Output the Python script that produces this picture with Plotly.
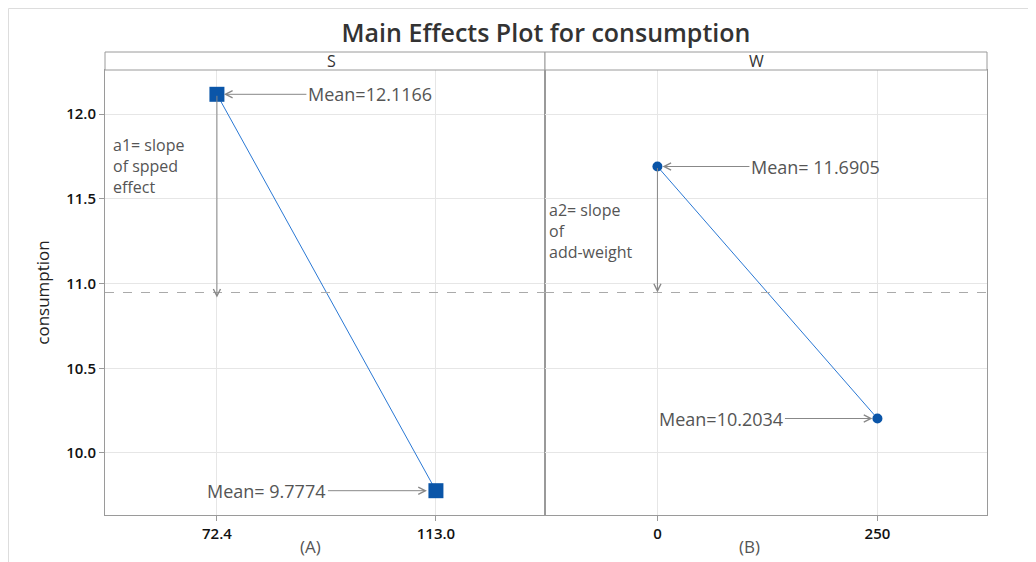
import plotly.graph_objects as go

# ---- data ----
s_levels = ["72.4", "113.0"]
s_means = [12.1166, 9.7774]
w_levels = ["0", "250"]
w_means = [11.6905, 10.2034]
panel_titles = ["S", "W"]
y_ticks = [10.0, 10.5, 11.0, 11.5, 12.0]
s_mean_labels = ["Mean=12.1166", "Mean= 9.7774"]
w_mean_labels = ["Mean= 11.6905", "Mean=10.2034"]
a1_lines = ["a1= slope", "of spped", "effect"]
a2_lines = ["a2= slope", "of", "add-weight"]
grand_mean = (sum(s_means) / len(s_means) + sum(w_means) / len(w_means)) / 2

FONT = "Open Sans"
OFF = 8  # page body margin
W, H = 1036 - OFF, 562 - OFF
L, R, T, B = 105 - OFF, 49, 52 - OFF, 47
plot_w = W - L - R
plot_h = H - T - B
strip_h = 18
ydom_top = 1 - strip_h / plot_h
split = (545 - 105) / plot_w
PLOT_BOTTOM = 515  # reference pixel y of plot bottom


def px_x(px):  # reference pixel x -> paper
    return (px - 105) / plot_w


def px_y(py):  # reference pixel y -> paper
    return (PLOT_BOTTOM - py) / plot_h


BLUE_LINE = "#2a78d4"
BLUE_MK = "#0a55a8"
AXIS = "#9a9a9a"
GRID = "#e6e6e6"
TXT = "#555555"

fig = go.Figure()
fig.add_trace(go.Scatter(x=s_levels, y=s_means, mode="lines+markers",
                         line=dict(color=BLUE_LINE, width=1),
                         marker=dict(symbol="square", size=15, color=BLUE_MK),
                         xaxis="x", yaxis="y", showlegend=False, hoverinfo="x+y"))
fig.add_trace(go.Scatter(x=w_levels, y=w_means, mode="lines+markers",
                         line=dict(color=BLUE_LINE, width=1),
                         marker=dict(symbol="circle", size=10, color=BLUE_MK),
                         xaxis="x2", yaxis="y2", showlegend=False, hoverinfo="x+y"))

xcommon = dict(type="category", range=[-0.511, 1.498], showgrid=True, gridcolor=GRID,
               showline=True, mirror=True, linecolor=AXIS, linewidth=1,
               ticks="outside", ticklen=5, tickcolor=AXIS, zeroline=False,
               tickfont=dict(family=FONT, size=15, color="#111", weight=600))
ycommon = dict(range=[9.634, 12.26], domain=[0, ydom_top], tickvals=y_ticks,
               ticktext=[f"{v:.1f}" for v in y_ticks], showgrid=True, gridcolor=GRID,
               showline=True, mirror=True, linecolor=AXIS, linewidth=1, zeroline=False)

fig.update_layout(
    width=W, height=H, margin=dict(l=L, r=R, t=T, b=B),
    paper_bgcolor="white", plot_bgcolor="white",
    font=dict(family=FONT, color=TXT),
    title=dict(text="Main Effects Plot for consumption", x=0.5, xref="paper",
               y=1 - (33 - OFF) / H, yref="container", xanchor="center", yanchor="middle",
               font=dict(family=FONT, size=25, color="#333", weight=600)),
    xaxis=dict(domain=[0, split], anchor="y", **xcommon),
    xaxis2=dict(domain=[split, 1], anchor="y2", **xcommon),
    yaxis=dict(anchor="x", ticks="outside", ticklen=5, tickcolor=AXIS,
               tickfont=dict(family=FONT, size=15, color="#111", weight=600),
               title=dict(text="consumption", standoff=12,
                          font=dict(family=FONT, size=17, color="#222")),
               **ycommon),
    yaxis2=dict(anchor="x2", matches="y", showticklabels=False, ticks="", **ycommon),
)

shapes = []
# strips
for x0, x1, lbl in [(0, split, panel_titles[0]), (split, 1, panel_titles[1])]:
    shapes.append(dict(type="rect", xref="paper", yref="paper", x0=x0, x1=x1,
                       y0=ydom_top, y1=1, line=dict(color=AXIS, width=1), fillcolor="white"))
    fig.add_annotation(text=lbl, xref="paper", yref="paper", x=(x0 + x1) / 2,
                       y=(ydom_top + 1) / 2, showarrow=False, yanchor="middle",
                       font=dict(family=FONT, size=16, color="#333"))
# grand mean reference lines
for xr in ["x domain", "x2 domain"]:
    shapes.append(dict(type="line", xref=xr, yref="y", x0=0, x1=1, y0=grand_mean, y1=grand_mean,
                       line=dict(color="#aaaaaa", width=1, dash="dash")))
# outer frame (top and left edges visible)
shapes.append(dict(type="line", xref="paper", yref="paper",
                   x0=px_x(OFF + 0.5), x1=px_x(1036), y0=px_y(OFF + 0.5), y1=px_y(OFF + 0.5),
                   line=dict(color="#dddddd", width=1)))
shapes.append(dict(type="line", xref="paper", yref="paper",
                   x0=px_x(OFF + 0.5), x1=px_x(OFF + 0.5), y0=px_y(OFF + 0.5), y1=px_y(562),
                   line=dict(color="#dddddd", width=1)))
fig.update_layout(shapes=shapes)

ARW = dict(showarrow=True, arrowhead=5, arrowsize=1.4, arrowwidth=1, arrowcolor="#888888")
MFONT = dict(family=FONT, size=18, color=TXT)
SFONT = dict(family=FONT, size=16, color=TXT)

# mean labels with arrows
fig.add_annotation(x=0, y=s_means[0], xref="x", yref="y", text=s_mean_labels[0],
                   ax=153, ay=0, standoff=7, font=MFONT, **ARW)
fig.add_annotation(x=1, y=s_means[1], xref="x", yref="y", text=s_mean_labels[1],
                   ax=-169, ay=0, standoff=9, font=MFONT, **ARW)
fig.add_annotation(x=0, y=w_means[0], xref="x2", yref="y2", text=w_mean_labels[0],
                   ax=158, ay=0, standoff=5, font=MFONT, **ARW)
fig.add_annotation(x=1, y=w_means[1], xref="x2", yref="y2", text=w_mean_labels[1],
                   ax=-156, ay=0, standoff=5, font=MFONT, **ARW)

# slope arrows from first mean down to grand mean
fig.add_annotation(x=0, y=grand_mean - 0.03, xref="x", yref="y", text="",
                   axref="x", ayref="y", ax=0, ay=s_means[0], **ARW)
fig.add_annotation(x=0, y=grand_mean, xref="x2", yref="y2", text="",
                   axref="x2", ayref="y2", ax=0, ay=w_means[0], **ARW)

# slope texts
fig.add_annotation(text="<br>".join(a1_lines), xref="paper", yref="paper", x=px_x(111),
                   y=px_y(132), xanchor="left", yanchor="top", align="left",
                   showarrow=False, font=SFONT)
fig.add_annotation(text="<br>".join(a2_lines), xref="paper", yref="paper", x=px_x(547),
                   y=px_y(197), xanchor="left", yanchor="top", align="left",
                   showarrow=False, font=SFONT)

# factor labels under axes
for lbl, px in [("(A)", 298), ("(B)", 762)]:
    fig.add_annotation(text=lbl, xref="paper", yref="paper", x=px_x(px), y=px_y(546),
                       showarrow=False, yanchor="middle",
                       font=dict(family=FONT, size=17, color=TXT))

fig.write_html("out.html")
